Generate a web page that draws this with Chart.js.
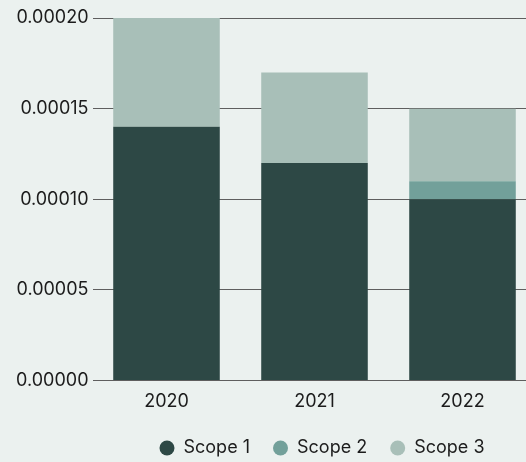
<!DOCTYPE html>
<html>
  <head>
    <title>Emissions by Scope</title>
    <script src="https://cdn.jsdelivr.net/npm/chart.js"></script>
    <style>
      body {
        margin: 0;
        background-color: #ebf1ef;
        overflow: hidden;
      }

      .chart-box {
        width: 540px;
        height: 467px;
      }
    </style>
  </head>
  <body>
    <div class="chart-box">
      <canvas id="scopeChart"></canvas>
    </div>
    <script>
      const years = ["2020", "2021", "2022"];
      const scope1 = [0.00014, 0.00012, 0.0001];
      const scope2 = [0, 0, 0.00001];
      const scope3 = [0.00006, 0.00005, 0.00004];
      const yTicks = [0, 0.00005, 0.0001, 0.00015, 0.0002];

      const fontFamily = "Inter, 'DejaVu Sans', sans-serif";
      const textColor = "#1c1c1c";

      // nudge the legend row a little to the right of the plot centre
      const legendShift = {
        id: "legendShift",
        afterLayout: function (chart) {
          chart.legend.left += 7.5;
          chart.legend.right += 7.5;
        },
      };

      const data = {
        labels: years,
        datasets: [
          { label: "Scope 1", data: scope1, backgroundColor: "#2d4845" },
          { label: "Scope 2", data: scope2, backgroundColor: "#72a09a" },
          { label: "Scope 3", data: scope3, backgroundColor: "#a8bfb8" },
        ],
      };

      const config = {
        type: "bar",
        data: data,
        plugins: [legendShift],
        options: {
          responsive: true,
          maintainAspectRatio: false,
          animation: false,
          layout: {
            padding: { top: 18, right: 3.5, left: 0, bottom: 0 },
          },
          plugins: {
            tooltip: { enabled: false },
            legend: {
              position: "bottom",
              fullSize: false,
              labels: {
                usePointStyle: true,
                pointStyle: "circle",
                boxWidth: 15,
                boxHeight: 10.6,
                padding: 23,
                color: textColor,
                font: { family: fontFamily, size: 18 },
              },
            },
          },
          scales: {
            x: {
              stacked: true,
              grid: { display: false, drawTicks: false },
              border: { display: false },
              ticks: {
                padding: 10,
                color: textColor,
                font: { family: fontFamily, size: 18 },
              },
              afterFit: function (scale) {
                scale.height = 35.5;
              },
            },
            y: {
              stacked: true,
              min: 0,
              max: 0.0002,
              afterBuildTicks: function (scale) {
                scale.ticks = yTicks.map(function (v) {
                  return { value: v };
                });
              },
              afterFit: function (scale) {
                scale.width = 92.5;
              },
              grid: { color: "#5e5e5e", lineWidth: 1, drawTicks: false },
              border: { display: false },
              ticks: {
                padding: 4,
                color: textColor,
                font: { family: fontFamily, size: 18 },
                callback: function (value) {
                  return Number(value).toFixed(5);
                },
              },
            },
          },
        },
      };

      new Chart(document.getElementById("scopeChart"), config);
    </script>
  </body>
</html>
